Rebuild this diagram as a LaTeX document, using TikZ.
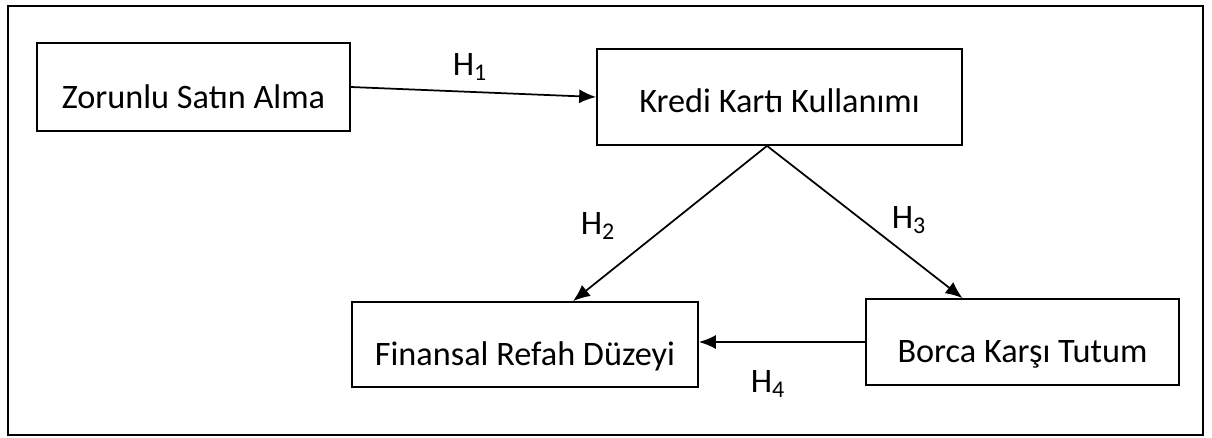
\documentclass[tikz,border=0pt]{standalone}
\usepackage{fontspec}
\setmainfont{Carlito}
\usetikzlibrary{arrows.meta}
\tikzset{
	box/.style={draw, line width=0.35mm, inner sep=0pt, text depth=0pt, text height=#1},
	link/.style={line width=0.35mm, -{Latex[length=3.4mm,width=2.8mm]}},
	hyp/.style={inner sep=0pt}
}

\begin{document}
\begin{tikzpicture}[x=0.02cm, y=-0.02cm, font=\fontsize{19.5}{23}\selectfont]
			%%%%% START %%%%%
			
			\useasboundingbox (0, 0) rectangle (1212, 437);
			\draw[line width=0.35mm] (8, 6) rectangle (1203, 435);
			
			\node[box=24.5pt, minimum width=6.26cm, minimum height=1.76cm] (zsa) at (193.5, 87) {Zorunlu Satın Alma};
			\node[box=18.2pt, minimum width=7.3cm, minimum height=1.92cm] (kkk) at (779.5, 97) {Kredi Kartı Kullanımı};
			\node[box=23.4pt, minimum width=6.92cm, minimum height=1.7cm] (frd) at (525, 344.5) {Finansal Refah Düzeyi};
			\node[box=23.4pt, minimum width=6.26cm, minimum height=1.72cm] (bkt) at (1022.5, 342) {Borca Karşı Tutum};
			
			\coordinate (apex) at ([xshift=-0.25cm]kkk.south);
			
			\draw[link] (zsa.east) -- (kkk.west);
			\draw[link] (apex) -- ([xshift=0.96cm]frd.north);
			\draw[link] (apex) -- ([xshift=-1.2cm]bkt.north);
			\draw[link] (bkt.west) -- (bkt.west -| frd.east);
			
			\node[hyp] (h1) at (470, 67) {H\textsubscript{1}};
			\node[hyp] (h2) at (598, 226) {H\textsubscript{2}};
			\node[hyp] (h3) at (909, 220) {H\textsubscript{3}};
			\node[hyp] (h4) at (768, 384) {H\textsubscript{4}};
			
			%%%%% END %%%%%
\end{tikzpicture}
\end{document}
